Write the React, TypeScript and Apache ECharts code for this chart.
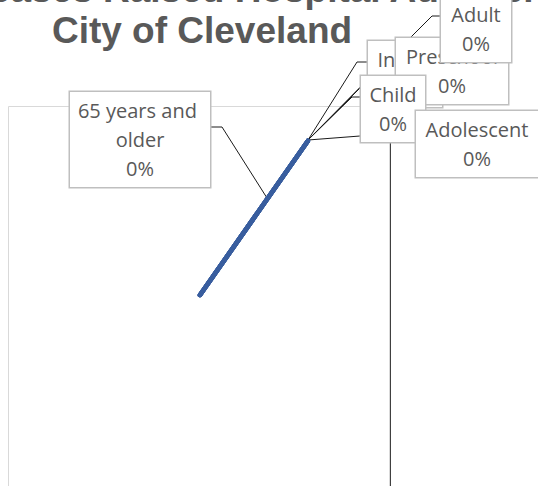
import React, { useEffect, useRef } from "react";
import * as echarts from "echarts";

// ---- data ----
const titleLines = ["Heat-Related Diseases Raised Hospital Admissions in the", "City of Cleveland"];
const categories = ["Infant", "Preschool", "Adult", "Child", "Adolescent", "65 years and older"];
const values = [0, 0, 0, 0, 0, 0];

// ---- label placement (layout only) ----
const labelBoxes: Record<string, { cx: number; top: number; w: number; line: number[][] }> = {
  Infant: { cx: 405, top: 41, w: 74, line: [[308, 140], [357, 62], [368, 62]] },
  Preschool: { cx: 452, top: 38, w: 112, line: [[308, 140], [385, 62], [396, 62]] },
  Adult: { cx: 476, top: -4, w: 70, line: [[308, 140], [432, 16], [442, 16]] },
  Child: { cx: 393, top: 76, w: 64, line: [[308, 140], [352, 97], [361, 97]] },
  Adolescent: { cx: 477, top: 111, w: 122, line: [[308, 140], [360, 136], [416, 132]] },
  "65 years and older": { cx: 140, top: 92, w: 140, line: [[267, 198], [222, 127], [211, 127]] },
};

const titleCenters = [-10.5, 30];

export default function App() {
  const ref = useRef<HTMLDivElement>(null);
  useEffect(() => {
    if (!ref.current) return;
    const chart = echarts.init(ref.current, undefined, { renderer: "svg" });
    const sum = values.reduce((a, b) => a + b, 0);
    const pct = (v: number) => (sum === 0 ? 0 : Math.round((v / sum) * 100));
    chart.setOption({
      animation: false,
      backgroundColor: "#ffffff",
      graphic: [
        {
          type: "rect",
          z: 0,
          shape: { x: 8.5, y: 106.5, width: 381, height: 400 },
          style: { fill: "none", stroke: "#D9D9D9", lineWidth: 1 },
        },
        {
          type: "line",
          z: 0,
          shape: { x1: 390.5, y1: 143, x2: 390.5, y2: 490 },
          style: { stroke: "#404040", lineWidth: 1 },
        },
        ...titleLines.map((t, i) => ({
          type: "text",
          z: 1,
          x: 202,
          y: titleCenters[i],
          style: {
            text: t,
            textAlign: "center",
            textVerticalAlign: "middle",
            fontFamily: "Liberation Sans",
            fontSize: 37,
            fontWeight: "bold",
            fill: "#595959",
          },
        })),
      ],
      series: [
        {
          type: "pie",
          center: [200, 295],
          radius: 188,
          startAngle: 55,
          clockwise: true,
          stillShowZeroSum: false,
          showEmptyCircle: false,
          avoidLabelOverlap: false,
          minShowLabelAngle: 0,
          itemStyle: { color: "#385D9E", borderColor: "#385D9E", borderWidth: 4.5 },
          label: {
            show: true,
            position: "outside",
            formatter: (p: any) => `${p.name}\n${pct(p.value)}%`,
            fontFamily: "Open Sans",
            fontSize: 20,
            color: "#595959",
            lineHeight: 29,
            backgroundColor: "#ffffff",
            borderColor: "#BFBFBF",
            borderWidth: 1.5,
            padding: [4, 0],
            align: "center",
            overflow: "break",
          },
          labelLine: {
            show: true,
            smooth: false,
            lineStyle: { color: "#1A1A1A", width: 1 },
          },
          labelLayout: (params: any) => {
            const b = labelBoxes[categories[params.dataIndex]];
            return {
              x: b.cx,
              y: b.top,
              align: "center",
              verticalAlign: "top",
              labelLinePoints: b.line,
            };
          },
          emphasis: { disabled: true },
          data: categories.map((name, i) => ({
            name,
            value: values[i],
            label: { width: labelBoxes[name].w },
          })),
        },
      ],
    });
    return () => chart.dispose();
  }, []);
  return (
    <div
      ref={ref}
      style={{ position: "fixed", left: 0, top: 0, width: 538, height: 486 }}
    />
  );
}
